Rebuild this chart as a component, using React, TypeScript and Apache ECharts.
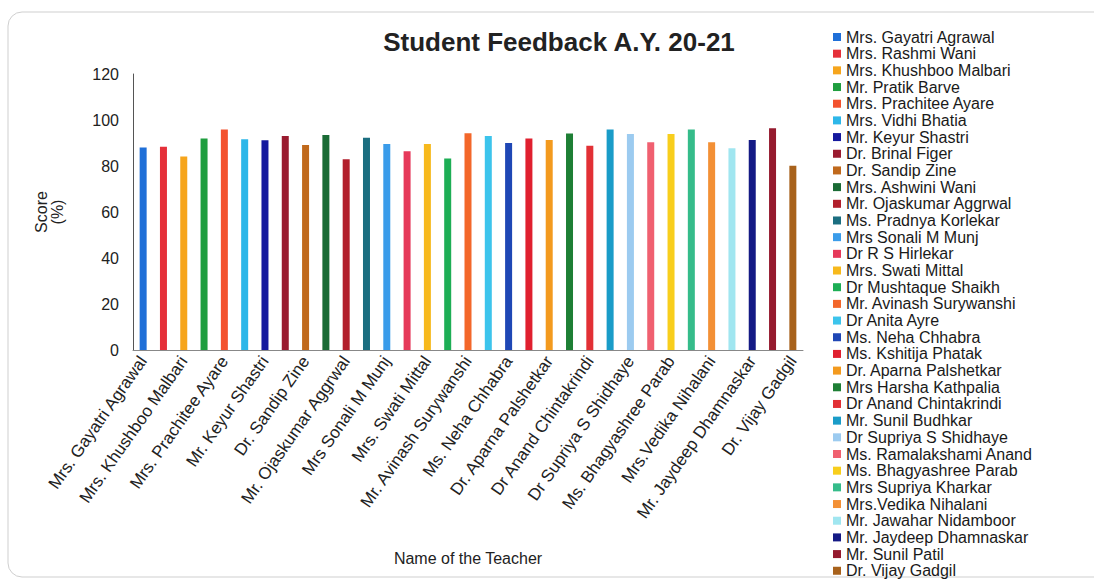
import React, { useEffect, useRef } from "react";
import * as echarts from "echarts";

const titleText = "Student Feedback A.Y. 20-21";
const xAxisName = "Name of the Teacher";
const yAxisName = "Score\n(%)";

const categories = [
  "Mrs. Gayatri Agrawal",
  "Mrs. Rashmi Wani",
  "Mrs. Khushboo Malbari",
  "Mr. Pratik Barve",
  "Mrs. Prachitee Ayare",
  "Mrs. Vidhi Bhatia",
  "Mr. Keyur Shastri",
  "Dr. Brinal Figer",
  "Dr. Sandip Zine",
  "Mrs. Ashwini Wani",
  "Mr. Ojaskumar Aggrwal",
  "Ms. Pradnya Korlekar",
  "Mrs Sonali M Munj",
  "Dr R S Hirlekar",
  "Mrs. Swati Mittal",
  "Dr Mushtaque Shaikh",
  "Mr. Avinash Surywanshi",
  "Dr Anita Ayre",
  "Ms. Neha Chhabra",
  "Ms. Kshitija Phatak",
  "Dr. Aparna Palshetkar",
  "Mrs Harsha Kathpalia",
  "Dr Anand Chintakrindi",
  "Mr. Sunil Budhkar",
  "Dr Supriya S Shidhaye",
  "Ms. Ramalakshami Anand",
  "Ms. Bhagyashree Parab",
  "Mrs Supriya Kharkar",
  "Mrs.Vedika Nihalani",
  "Mr. Jawahar Nidamboor",
  "Mr. Jaydeep Dhamnaskar",
  "Mr. Sunil Patil",
  "Dr. Vijay Gadgil",
];

const scores = [
  88.0, 88.4, 84.1, 92.0, 95.9, 91.6, 91.2, 93.0, 89.1, 93.5, 82.9,
  92.3, 89.6, 86.4, 89.6, 83.3, 94.2, 93.0, 90.0, 92.0, 91.3, 94.1,
  88.8, 95.9, 93.9, 90.3, 93.9, 95.9, 90.3, 87.7, 91.3, 96.4, 80.1,
];

const colors = [
  "#1f6fd8", "#e5303a", "#f6a51c", "#1f9e3f", "#f3522e", "#2db7e9",
  "#15199e", "#9a1b30", "#c0691c", "#1a6b35", "#b21f2c", "#1b6e80",
  "#3a9cea", "#e6395a", "#f7b91c", "#1dae55", "#f3672a", "#3cc4ec",
  "#1f47b5", "#e0202f", "#f39a1e", "#1e7f35", "#e23035", "#1a9cc8",
  "#9ccbf0", "#f06070", "#f8ce1c", "#35bc8a", "#f39035", "#a0e6f0",
  "#141a85", "#951a2e", "#a8621c",
];

const yTicks = { min: 0, max: 120, interval: 20 };

export default function App() {
  const ref = useRef<HTMLDivElement>(null);
  useEffect(() => {
    if (!ref.current) return;
    const chart = echarts.init(ref.current, null, { renderer: "svg" });
    const font = "Liberation Sans, Arial, sans-serif";
    chart.setOption({
      animation: false,
      backgroundColor: "#ffffff",
      textStyle: { fontFamily: font },
      title: {
        text: titleText,
        left: 554,
        top: 24,
        textAlign: "center",
        textStyle: { fontSize: 26, fontWeight: "bold", color: "#222", fontFamily: font },
      },
      graphic: [
        {
          type: "rect",
          shape: { x: 8, y: 12, width: 1120, height: 565, r: 14 },
          style: { fill: "none", stroke: "#cfcfcf", lineWidth: 1 },
          silent: true,
          z: -10,
        },
      ],
      legend: {
        orient: "vertical",
        left: 833,
        top: 29,
        height: 553,
        padding: 0,
        icon: "rect",
        itemWidth: 8,
        itemHeight: 8,
        itemGap: 0.68,
        data: categories,
        textStyle: { fontSize: 16, lineHeight: 16, color: "#1a1a1a", fontFamily: font },
      },
      grid: { left: 133, right: 291, top: 74, bottom: 232, containLabel: false },
      xAxis: {
        type: "category",
        data: categories,
        name: xAxisName,
        nameLocation: "middle",
        nameGap: 200,
        nameTextStyle: { fontSize: 16, color: "#222" },
        axisLine: { lineStyle: { color: "#888" } },
        axisTick: { show: false },
        axisLabel: {
          interval: 1,
          rotate: 55,
          fontSize: 17,
          color: "#222",
          margin: 8,
        },
      },
      yAxis: {
        type: "value",
        min: yTicks.min,
        max: yTicks.max,
        interval: yTicks.interval,
        name: yAxisName,
        nameLocation: "middle",
        nameRotate: 90,
        nameGap: 68,
        nameTextStyle: { fontSize: 16, color: "#222", lineHeight: 16 },
        axisLine: { show: true, lineStyle: { color: "#555" } },
        axisTick: { show: false },
        splitLine: { show: false },
        axisLabel: { fontSize: 16, color: "#222", margin: 14 },
      },
      series: categories.map((name, i) => ({
        name,
        type: "bar",
        stack: "all",
        barWidth: 7,
        itemStyle: { color: colors[i] },
        data: scores.map((v, j) => (j === i ? v : "-")),
      })),
    });
    return () => chart.dispose();
  }, []);
  return (
    <div
      ref={ref}
      style={{ position: "fixed", left: 0, top: 0, width: 1094, height: 582 }}
    />
  );
}
